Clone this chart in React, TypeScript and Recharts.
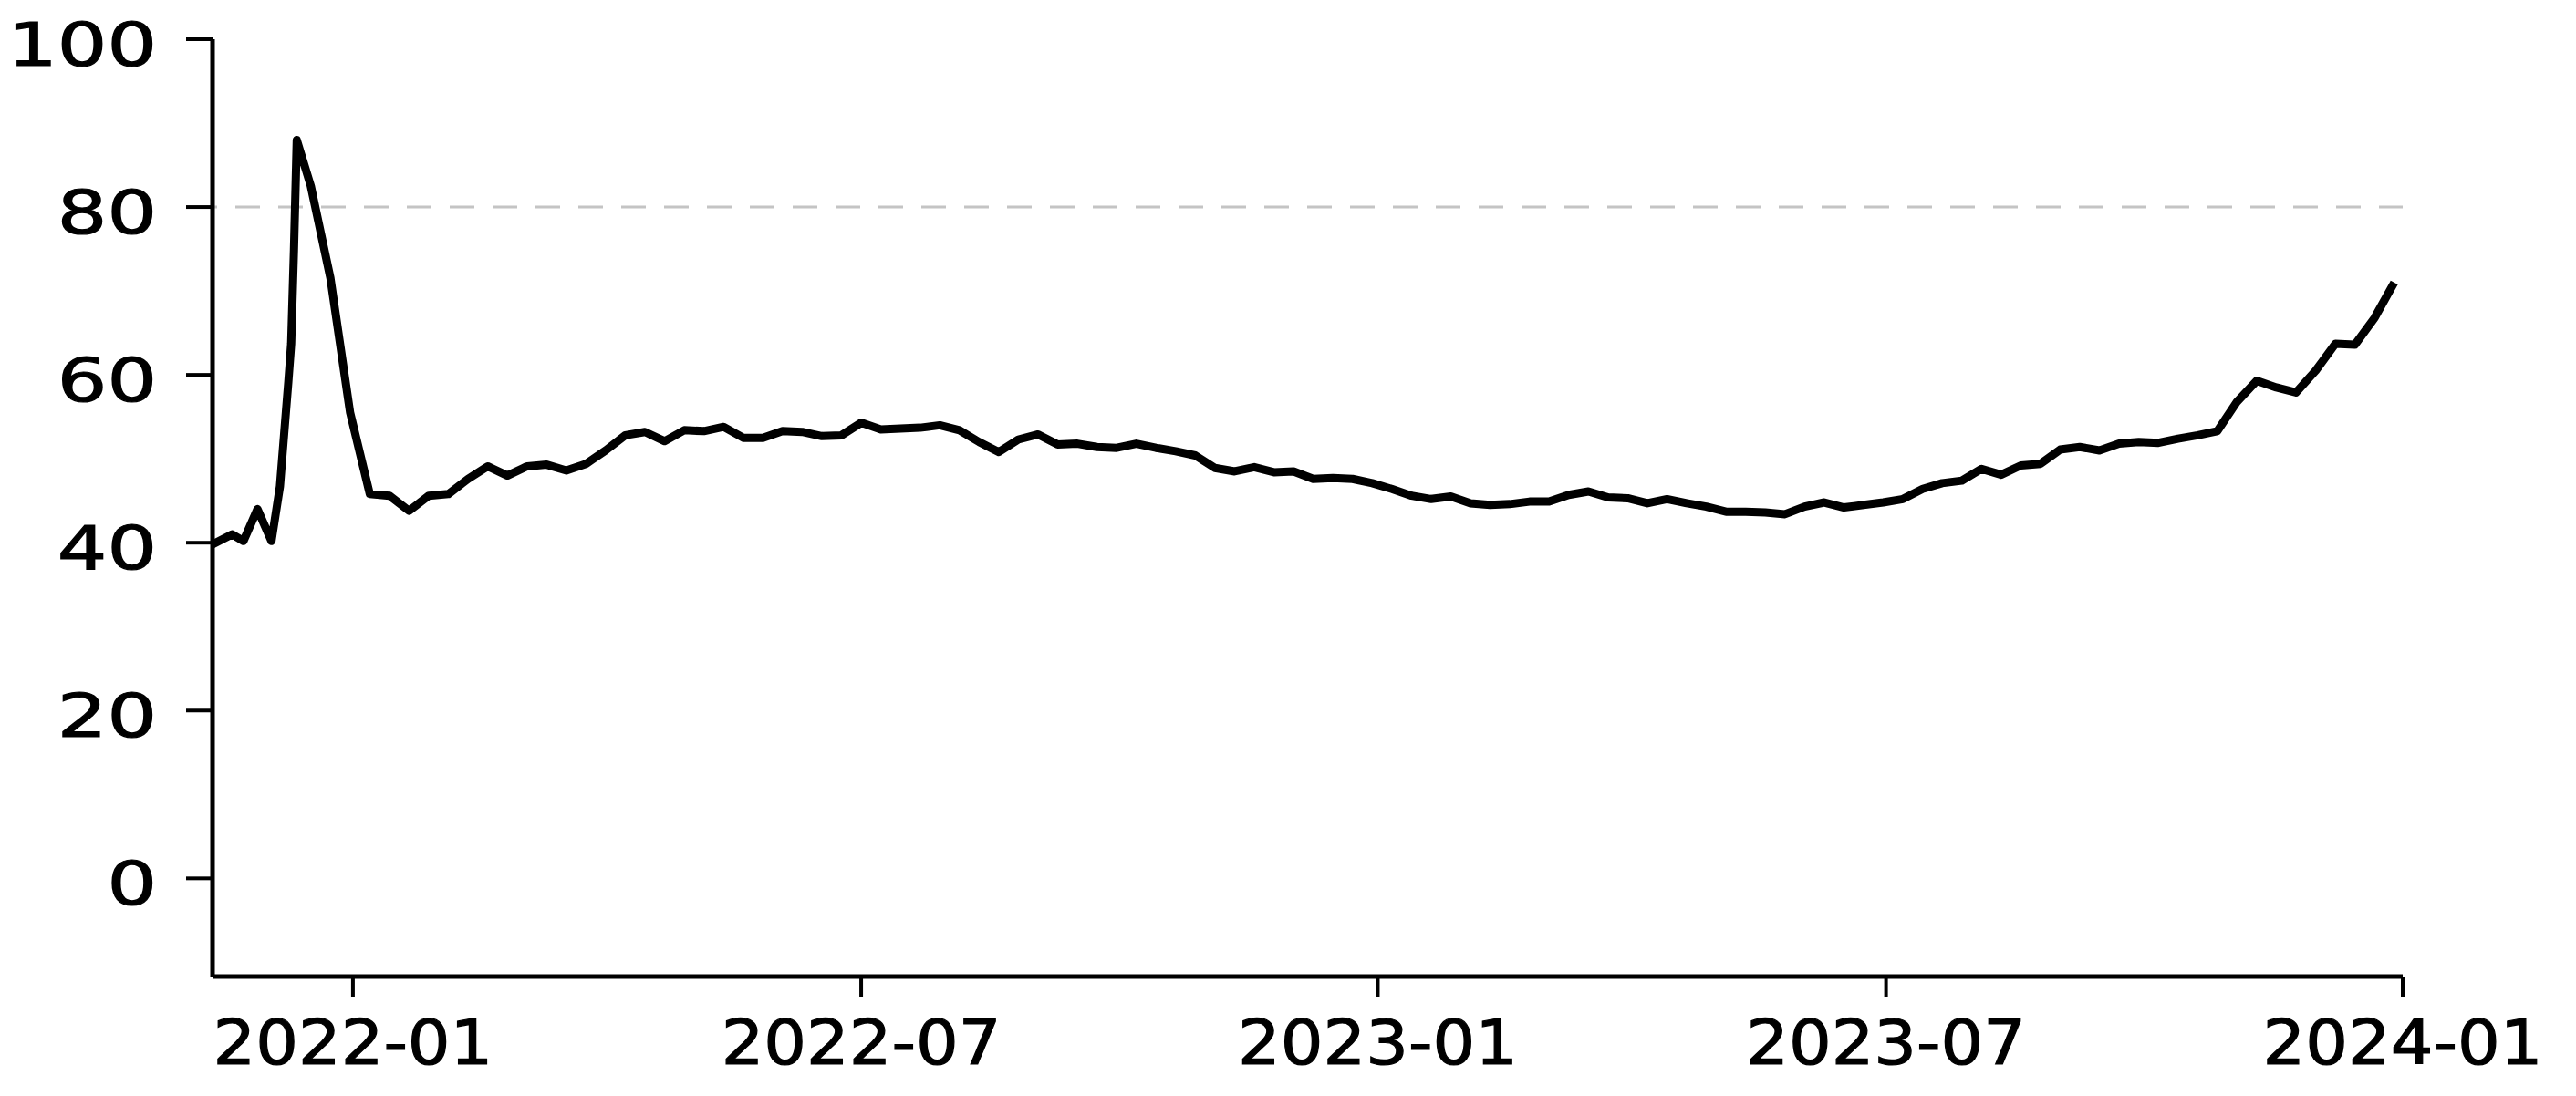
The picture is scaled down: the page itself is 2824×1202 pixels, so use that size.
import React from 'react'
import { LineChart, Line, XAxis, YAxis, ReferenceLine } from 'recharts'

// weekly readings, with a few extra days around the December 2021 spike
const dates = [
	'2021-11-12', '2021-11-19', '2021-11-23', '2021-11-28', '2021-12-03', '2021-12-06',
	'2021-12-09', '2021-12-10', '2021-12-11', '2021-12-12', '2021-12-17', '2021-12-24',
	'2021-12-31',
	'2022-01-07', '2022-01-14', '2022-01-21', '2022-01-28', '2022-02-04', '2022-02-11',
	'2022-02-18', '2022-02-25', '2022-03-04', '2022-03-11', '2022-03-18', '2022-03-25',
	'2022-04-01', '2022-04-08', '2022-04-15', '2022-04-22', '2022-04-29', '2022-05-06',
	'2022-05-13', '2022-05-20', '2022-05-27', '2022-06-03', '2022-06-10', '2022-06-17',
	'2022-06-24', '2022-07-01', '2022-07-08', '2022-07-15', '2022-07-22', '2022-07-29',
	'2022-08-05', '2022-08-12', '2022-08-19', '2022-08-26', '2022-09-02', '2022-09-09',
	'2022-09-16', '2022-09-23', '2022-09-30', '2022-10-07', '2022-10-14', '2022-10-21',
	'2022-10-28', '2022-11-04', '2022-11-11', '2022-11-18', '2022-11-25', '2022-12-02',
	'2022-12-09', '2022-12-16', '2022-12-23', '2022-12-30',
	'2023-01-06', '2023-01-13', '2023-01-20', '2023-01-27', '2023-02-03', '2023-02-10',
	'2023-02-17', '2023-02-24', '2023-03-03', '2023-03-10', '2023-03-17', '2023-03-24',
	'2023-03-31', '2023-04-07', '2023-04-14', '2023-04-21', '2023-04-28', '2023-05-05',
	'2023-05-12', '2023-05-19', '2023-05-26', '2023-06-02', '2023-06-09', '2023-06-16',
	'2023-06-23', '2023-06-30', '2023-07-07', '2023-07-14', '2023-07-21', '2023-07-28',
	'2023-08-04', '2023-08-11', '2023-08-18', '2023-08-25', '2023-09-01', '2023-09-08',
	'2023-09-15', '2023-09-22', '2023-09-29', '2023-10-06', '2023-10-13', '2023-10-20',
	'2023-10-27', '2023-11-03', '2023-11-10', '2023-11-17', '2023-11-24', '2023-12-01',
	'2023-12-08', '2023-12-15', '2023-12-22', '2023-12-29',
]

const values = [
	39.8, 41.0, 40.2, 44.0, 40.2, 46.7,
	59.2, 63.7, 74.9, 88.0, 82.5, 71.5,
	55.5,
	45.8, 45.6, 43.8, 45.6, 45.8, 47.6,
	49.1, 48.0, 49.1, 49.3, 48.6, 49.4,
	51.0, 52.8, 53.2, 52.1, 53.4, 53.3,
	53.8, 52.5, 52.5, 53.3, 53.2, 52.7,
	52.8, 54.3, 53.5, 53.6, 53.7, 54.0,
	53.4, 52.0, 50.8, 52.3, 52.9, 51.7,
	51.8, 51.4, 51.3, 51.8, 51.3, 50.9,
	50.4, 48.9, 48.5, 49.0, 48.4, 48.5,
	47.6, 47.7, 47.6, 47.1,
	46.4, 45.6, 45.2, 45.5, 44.7, 44.5,
	44.6, 44.9, 44.9, 45.7, 46.1, 45.4,
	45.3, 44.7, 45.2, 44.7, 44.3, 43.7,
	43.7, 43.6, 43.4, 44.3, 44.8, 44.2,
	44.5, 44.8, 45.2, 46.4, 47.1, 47.4,
	48.8, 48.1, 49.2, 49.4, 51.1, 51.4,
	51.0, 51.8, 52.0, 51.9, 52.4, 52.8,
	53.3, 56.8, 59.3, 58.5, 57.9, 60.5,
	63.7, 63.6, 66.8, 71.0,
]

const yTicks = [0, 20, 40, 60, 80, 100]
const xTickLabels = ['2022-01', '2022-07', '2023-01', '2023-07', '2024-01']
const threshold = 80

const data = dates.map((d, i) => ({ t: Date.parse(d), value: values[i] }))
const xTicks = xTickLabels.map((m) => Date.parse(`${m}-01`))

const monthLabel = (t: number) => new Date(t).toISOString().slice(0, 7)

function YTick({ x, y, payload }: any) {
	return (
		<text
			transform={`translate(${x},${y}) scale(1.3,1)`}
			y={29}
			textAnchor="end"
			fontSize={66}
			fontFamily="DejaVu Sans"
			fill="#000"
			stroke="#000"
			strokeWidth={1.2}
		>
			{payload.value}
		</text>
	)
}

function XTick({ x, y, payload }: any) {
	return (
		<text
			transform={`translate(${x},${y}) scale(1.08,1)`}
			y={74}
			textAnchor="middle"
			fontSize={68}
			fontFamily="DejaVu Sans"
			fill="#000"
			stroke="#000"
			strokeWidth={1.2}
		>
			{monthLabel(payload.value)}
		</text>
	)
}

export default function App() {
	return (
		<div style={{ position: 'absolute', left: 0, top: 0, background: '#fff' }}>
			<LineChart
				width={2824}
				height={1202}
				data={data}
				margin={{ top: 43, right: 190, bottom: 0, left: 0 }}
			>
				<XAxis
					dataKey="t"
					type="number"
					domain={[data[0].t, xTicks[xTicks.length - 1]]}
					allowDataOverflow
					ticks={xTicks}
					interval={0}
					height={131}
					tickSize={22}
					tickMargin={0}
					axisLine={{ stroke: '#000', strokeWidth: 5 }}
					tickLine={{ stroke: '#000', strokeWidth: 4 }}
					tick={<XTick />}
				/>
				<YAxis
					type="number"
					domain={[-11.7, 100]}
					allowDataOverflow
					ticks={yTicks}
					interval={0}
					width={233}
					tickSize={29}
					tickMargin={32}
					axisLine={{ stroke: '#000', strokeWidth: 5 }}
					tickLine={{ stroke: '#000', strokeWidth: 4 }}
					tick={<YTick />}
				/>
				<ReferenceLine
					y={threshold}
					stroke="#c4c4c4"
					strokeWidth={3}
					strokeDasharray="27 20"
					strokeDashoffset={22}
				/>
				<Line
					dataKey="value"
					type="linear"
					stroke="#000"
					strokeWidth={9}
					strokeLinejoin="round"
					dot={false}
					isAnimationActive={false}
				/>
			</LineChart>
		</div>
	)
}
